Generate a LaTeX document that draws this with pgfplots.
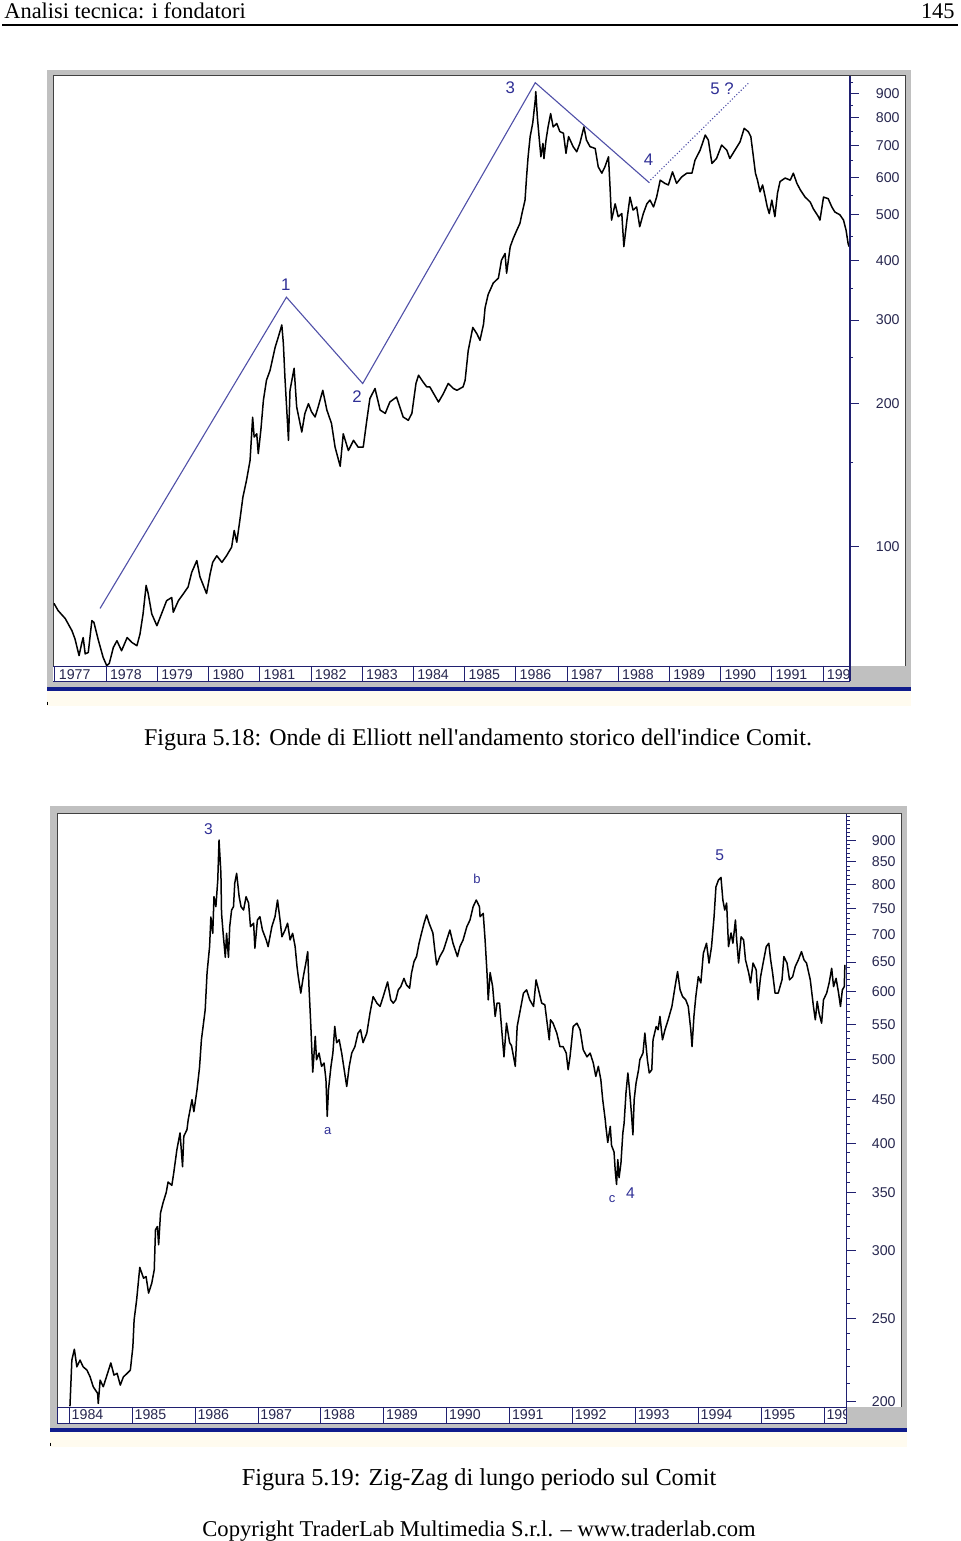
\documentclass[border=0pt]{standalone}
\usepackage{fontspec}
\setmainfont{Liberation Serif}
\setsansfont{Liberation Sans}
\usepackage{pgfplots}
\pgfplotsset{compat=1.18}
\definecolor{framegray}{RGB}{192,192,192}
\definecolor{framedark}{RGB}{64,64,64}
\definecolor{axisnavy}{RGB}{32,32,112}
\definecolor{barblue}{RGB}{16,28,140}
\definecolor{cream}{RGB}{255,251,239}
\definecolor{wave}{RGB}{80,80,168}
\definecolor{wavetxt}{RGB}{48,48,150}
\definecolor{ticktxt}{RGB}{40,40,80}
\pgfplotsset{
  chartstyle/.style={
    scale only axis, anchor=north west, clip=false,
    axis line style={draw=none},
    tick align=outside,
    major tick length=4.5pt, minor tick length=1.5pt,
    tick style={axisnavy, line width=0.5pt},
    ytick pos=right, yticklabel pos=right,
    xtick pos=left, xticklabel pos=left,
    xtick style={draw=none},
    yticklabel style={font=\sffamily\fontsize{7.1}{8}\selectfont, text=ticktxt, anchor=east, inner sep=0pt},
    xticklabel style={font=\sffamily\fontsize{7.1}{8}\selectfont, text=ticktxt, anchor=west, inner sep=0pt},
  },
  price/.style={black, line width=0.75pt, line join=round},
}
\begin{document}
\begin{tikzpicture}[x=0.5pt,y=-0.5pt]
\path[use as bounding box] (0,0) rectangle (960,1541);
\fill[white] (0,0) rectangle (960,1541);
% header
\node[anchor=base west, inner sep=0pt, font=\fontsize{11.2}{13}\selectfont] at (4,19) {Analisi tecnica: i fondatori};
\node[anchor=base east, inner sep=0pt, font=\fontsize{11.2}{13}\selectfont] at (955,19) {145};
\draw[line width=1pt] (2,25.5) -- (958,25.5);

% ---------- chart 1 frame
\fill[framegray] (47,70) rectangle (911,688);
\fill[white] (53,76) rectangle (905,666);
\draw[framedark, line width=0.5pt] (53,666) -- (53,76) -- (905,76) -- (905,666);
\fill[white] (53,666) rectangle (850,681);
\fill[barblue] (47,687) rectangle (911,691);
\fill[cream] (47,691) rectangle (911,706);
\draw[line width=0.5pt] (47.5,701.5) -- (47.5,704.5);

\begin{axis}[chartstyle,
  at={(26.5pt,-38.5pt)}, width=398.5pt, height=294.5pt,
  xmin=1976.961, xmax=1992.527, ymode=log, ymin=56, ymax=976,
  ytick={100,200,300,400,500,600,700,800,900},
  yticklabels={100,200,300,400,500,600,700,800,900},
  minor ytick={150,250,350,450,550,650,750,850,950},
  xtick={1977,1978,1979,1980,1981,1982,1983,1984,1985,1986,1987,1988,1989,1990,1991,1992},
  xticklabels={1977,1978,1979,1980,1981,1982,1983,1984,1985,1986,1987,1988,1989,1990,1991,1992},
  yticklabel style={xshift=20.5pt},
  xticklabel style={xshift=1.75pt, yshift=0.25pt},
]
\addplot[price] coordinates {
(1976.98,75.9) (1977.06,73.3) (1977.20,70.5) (1977.33,66.5) (1977.39,63.9) (1977.47,58.9) (1977.52,62.4) (1977.55,64.3) (1977.59,59.4) (1977.65,59.8) (1977.72,69.8) (1977.76,69.2) (1977.85,63.3) (1977.94,58.4) (1978.01,56.1) (1978.06,56.7) (1978.14,61.3) (1978.21,63.3) (1978.30,60.3) (1978.41,64.3) (1978.50,62.8) (1978.60,61.8) (1978.66,65.4) (1978.72,72.1) (1978.78,82.8) (1978.82,79.6) (1978.89,72.1) (1978.99,68.1) (1979.08,72.1) (1979.18,76.9) (1979.28,78.1) (1979.31,72.7) (1979.41,76.9) (1979.51,79.6) (1979.60,82.2) (1979.67,88.2) (1979.77,93.4) (1979.83,86.4) (1979.96,79.6) (1980.03,87.6) (1980.08,92.6) (1980.16,95.6) (1980.26,92.6) (1980.35,95.6) (1980.45,99.7) (1980.50,108.1) (1980.55,102.1) (1980.61,113.5) (1980.67,127.1) (1980.74,137.8) (1980.81,151.9) (1980.86,187.3) (1980.89,170.1) (1980.94,172.8) (1980.97,157) (1981.02,175.6) (1981.07,203.2) (1981.13,224) (1981.20,235) (1981.30,263) (1981.36,276) (1981.43,293) (1981.46,268) (1981.49,228) (1981.56,167.4) (1981.59,213.4) (1981.67,237.5) (1981.72,196.9) (1981.82,174.3) (1981.88,190.7) (1981.95,200) (1982.01,192.3) (1982.08,187.5) (1982.14,196.9) (1982.23,213.4) (1982.31,193.9) (1982.40,181.7) (1982.47,162) (1982.57,147.6) (1982.63,172.8) (1982.73,159.3) (1982.83,167.4) (1982.92,162) (1983.02,162) (1983.09,184.5) (1983.15,205) (1983.25,215.3) (1983.35,193.9) (1983.45,190.8) (1983.54,201.6) (1983.67,206.5) (1983.80,187.5) (1983.90,184.5) (1983.97,190.8) (1984.05,220.6) (1984.10,229.6) (1984.19,222.1) (1984.26,217) (1984.32,217) (1984.49,201.6) (1984.58,209.5) (1984.68,220.6) (1984.78,215.3) (1984.85,213.4) (1984.97,217) (1985.01,224) (1985.07,258.5) (1985.16,289.5) (1985.24,280.7) (1985.30,272) (1985.37,294.3) (1985.40,318.6) (1985.46,339.8) (1985.56,359.2) (1985.66,367.8) (1985.72,401.2) (1985.79,414.5) (1985.82,376.6) (1985.89,428) (1985.95,446) (1986.02,464.2) (1986.08,479.5) (1986.12,503) (1986.18,537) (1986.21,601) (1986.24,662.7) (1986.28,731) (1986.33,780) (1986.38,873) (1986.39,909) (1986.42,805) (1986.46,718.6) (1986.49,662.7) (1986.53,707) (1986.55,657) (1986.59,718.6) (1986.63,766) (1986.68,817) (1986.73,766) (1986.80,779) (1986.86,749) (1986.93,743) (1986.98,674) (1987.03,731) (1987.12,696) (1987.19,679) (1987.25,707) (1987.33,766) (1987.38,718.6) (1987.45,696) (1987.55,690) (1987.61,631) (1987.68,612) (1987.74,631) (1987.81,662.7) (1987.84,572.6) (1987.87,487.4) (1987.94,527.5) (1988.00,495.5) (1988.07,503) (1988.11,428.6) (1988.17,487.4) (1988.23,545) (1988.29,511.6) (1988.36,519.5) (1988.42,472) (1988.49,503) (1988.56,527.5) (1988.62,537) (1988.69,519.5) (1988.75,545) (1988.82,591.6) (1988.91,582.5) (1988.98,578) (1989.06,616) (1989.14,582.5) (1989.24,601) (1989.34,612) (1989.44,612) (1989.50,652) (1989.60,684.5) (1989.70,736.5) (1989.76,718.6) (1989.83,641.5) (1989.92,657.3) (1990.02,701.4) (1990.12,684.5) (1990.18,657.3) (1990.28,684.5) (1990.38,712.7) (1990.46,760.7) (1990.54,748.7) (1990.59,731) (1990.64,662.7) (1990.68,612) (1990.72,591.6) (1990.77,559) (1990.82,578) (1990.87,546) (1990.91,520) (1990.95,503) (1991.00,537) (1991.06,495.5) (1991.11,554.8) (1991.16,587.5) (1991.26,597.7) (1991.36,591.6) (1991.42,612) (1991.49,582.5) (1991.56,563.6) (1991.65,545) (1991.75,532) (1991.81,515) (1991.91,495.5) (1991.94,487.4) (1992.01,545) (1992.10,541) (1992.17,520) (1992.23,507) (1992.33,500) (1992.40,487.4) (1992.45,464.2) (1992.49,435) (1992.51,428.6)
};
\addplot[wave, line width=0.55pt] coordinates {(1977.88,74.05) (1981.52,335.3) (1983.01,220.5) (1986.38,949.4) (1988.61,584)};
\addplot[wave, line width=0.55pt, densely dotted] coordinates {(1988.63,592) (1990.54,946.6)};
\node[text=wavetxt, font=\sffamily\fontsize{8.4}{9}\selectfont, inner sep=0pt] at (axis cs:1981.51,357) {1};
\node[text=wavetxt, font=\sffamily\fontsize{8.4}{9}\selectfont, inner sep=0pt] at (axis cs:1982.90,207) {2};
\node[text=wavetxt, font=\sffamily\fontsize{8.4}{9}\selectfont, inner sep=0pt] at (axis cs:1985.89,925) {3};
\node[text=wavetxt, font=\sffamily\fontsize{8.4}{9}\selectfont, inner sep=0pt] at (axis cs:1988.59,652) {4};
\node[text=wavetxt, font=\sffamily\fontsize{8.4}{9}\selectfont, inner sep=0pt] at (axis cs:1990.03,921) {5 ?};
\pgfplotsinvokeforeach{1977,1978,1979,1980,1981,1982,1983,1984,1985,1986,1987,1988,1989,1990,1991,1992}{
  \draw[axisnavy, line width=0.5pt] (axis cs:#1,56) -- ++(0pt,-7.5pt);
}
\end{axis}
\fill[framegray] (850.5,666) rectangle (905,687);
\draw[axisnavy, line width=0.5pt] (53,666) -- (850,666);
\draw[axisnavy, line width=0.5pt] (53,681) -- (850,681);
\draw[axisnavy, line width=0.5pt] (54,666) -- (54,681);
\draw[axisnavy, line width=0.6pt] (850,76.5) -- (850,681);

\node[anchor=base, inner sep=0pt, font=\fontsize{12}{14}\selectfont] at (478,745) {Figura 5.18: Onde di Elliott nell\textquotesingle andamento storico dell\textquotesingle indice Comit.};

% ---------- chart 2 frame
\fill[framegray] (50,806) rectangle (907,1428);
\fill[white] (57,813) rectangle (901,1407);
\draw[framedark, line width=0.5pt] (57,1407) -- (57,813) -- (901,813) -- (901,1407);
\fill[white] (57,1407) rectangle (847,1423);
\fill[barblue] (50,1428) rectangle (907,1432);
\fill[cream] (50,1432) rectangle (907,1447);
\draw[line width=0.5pt] (50.5,1442.5) -- (50.5,1445.5);

\begin{axis}[chartstyle,
  at={(28.5pt,-406.75pt)}, width=394.85pt, height=296.75pt,
  xmin=1983.804, xmax=1996.359, ymode=log, ymin=197.2, ymax=967.8,
  ytick={200,250,300,350,400,450,500,550,600,650,700,750,800,850,900},
  yticklabels={200,250,300,350,400,450,500,550,600,650,700,750,800,850,900},
  minor ytick={200,210,...,960},
  xtick={1984,1985,1986,1987,1988,1989,1990,1991,1992,1993,1994,1995,1996},
  xticklabels={1984,1985,1986,1987,1988,1989,1990,1991,1992,1993,1994,1995,1996},
  yticklabel style={xshift=20.15pt},
  xticklabel style={xshift=1pt, yshift=0.5pt},
]
\addplot[price] coordinates {
(1984.01,197.6) (1984.04,223.6) (1984.08,230.2) (1984.12,219.6) (1984.17,223.6) (1984.22,219.6) (1984.28,217.7) (1984.33,213.8) (1984.38,208.2) (1984.45,204.5) (1984.46,199.1) (1984.49,211.9) (1984.54,208.2) (1984.59,213.8) (1984.66,221.9) (1984.71,214.8) (1984.76,215.8) (1984.81,209.1) (1984.86,213.8) (1984.92,215.8) (1984.97,217.7) (1985.01,231.6) (1985.03,249) (1985.07,262.7) (1985.12,286.7) (1985.18,278.5) (1985.22,279.7) (1985.26,267.6) (1985.31,274.7) (1985.35,284.8) (1985.37,317.1) (1985.40,319.9) (1985.42,304.6) (1985.45,331.9) (1985.49,340.9) (1985.54,350.4) (1985.57,360.4) (1985.63,357.2) (1985.66,369.4) (1985.71,393.1) (1985.76,411.1) (1985.80,375.5) (1985.82,407.4) (1985.87,414.7) (1985.89,425.9) (1985.95,449.4) (1985.98,435.2) (1986.03,461.5) (1986.07,490.1) (1986.10,527.7) (1986.16,571.8) (1986.19,631.9) (1986.23,677.4) (1986.25,733.4) (1986.28,702) (1986.30,774.4) (1986.33,754) (1986.36,809.7) (1986.38,901.4) (1986.41,824.4) (1986.42,740.9) (1986.45,695.4) (1986.48,658.1) (1986.50,702) (1986.53,658.1) (1986.55,714.7) (1986.58,747.2) (1986.61,754) (1986.63,803) (1986.66,824.4) (1986.70,774.4) (1986.73,754) (1986.77,747.2) (1986.81,774.4) (1986.85,761.3) (1986.88,714.7) (1986.93,721.3) (1986.95,674.3) (1986.99,727.5) (1987.03,734) (1987.07,708.3) (1987.13,689.6) (1987.16,677.4) (1987.22,714.7) (1987.27,734) (1987.31,767.5) (1987.35,727.5) (1987.38,695.4) (1987.43,708.3) (1987.47,721.3) (1987.51,689.6) (1987.55,702) (1987.59,677.4) (1987.62,642) (1987.64,625) (1987.68,598) (1987.72,625) (1987.76,648) (1987.79,668.4) (1987.81,609) (1987.84,546.8) (1987.87,483.8) (1987.91,532.4) (1987.93,500.2) (1987.97,509.2) (1988.01,491.4) (1988.05,495.8) (1988.08,474.1) (1988.10,429.8) (1988.12,461.5) (1988.16,491.4) (1988.19,509.2) (1988.22,546.8) (1988.25,523.6) (1988.29,527.7) (1988.33,509.2) (1988.37,486.9) (1988.41,465.6) (1988.45,491.4) (1988.49,509.2) (1988.54,518.1) (1988.59,537.2) (1988.63,542) (1988.67,523.6) (1988.73,537.2) (1988.78,566.8) (1988.83,592.5) (1988.89,582.1) (1988.94,577) (1988.99,592.5) (1989.06,616.2) (1989.11,587.3) (1989.15,582.1) (1989.19,587.3) (1989.23,603.2) (1989.27,608.5) (1989.32,622.1) (1989.36,611.3) (1989.41,605.9) (1989.44,630.9) (1989.48,650.7) (1989.52,659.5) (1989.56,683.5) (1989.60,702.6) (1989.64,721.3) (1989.68,737.4) (1989.72,721.3) (1989.78,702.6) (1989.81,671.4) (1989.84,645) (1989.89,659.5) (1989.95,671.4) (1990.00,689.6) (1990.05,708.3) (1990.10,683.5) (1990.17,659.5) (1990.21,677.4) (1990.26,689.6) (1990.32,714.7) (1990.37,727.5) (1990.42,754) (1990.47,767.5) (1990.52,754) (1990.53,734) (1990.58,740.6) (1990.61,689.6) (1990.64,631.9) (1990.66,587.3) (1990.69,631.9) (1990.73,608.5) (1990.77,561.7) (1990.80,582.1) (1990.84,582.1) (1990.87,546.8) (1990.91,504.1) (1990.95,551.7) (1991.00,523.6) (1991.03,519.4) (1991.09,491.4) (1991.12,546.8) (1991.17,571.8) (1991.22,598) (1991.27,603.2) (1991.32,587.3) (1991.38,577) (1991.42,619.6) (1991.46,603.2) (1991.51,582.1) (1991.56,579.6) (1991.59,556.7) (1991.63,527.7) (1991.65,556.7) (1991.69,551.7) (1991.75,537.2) (1991.80,518.1) (1991.85,518.1) (1991.90,509.2) (1991.93,486.9) (1991.96,504.1) (1992.01,546.8) (1992.07,551.7) (1992.12,542) (1992.17,513.7) (1992.23,504.1) (1992.28,509.2) (1992.33,495.8) (1992.37,478.3) (1992.41,491.4) (1992.45,474.1) (1992.48,449.4) (1992.52,425.9) (1992.53,418.4) (1992.56,400.7) (1992.60,418.4) (1992.62,397.6) (1992.66,390.6) (1992.68,370.7) (1992.70,358.1) (1992.72,382.7) (1992.74,364.6) (1992.77,379.4) (1992.80,411.1) (1992.82,421.8) (1992.85,457.8) (1992.88,482.8) (1992.91,457.8) (1992.94,429.8) (1992.96,409) (1992.98,449.4) (1993.01,469.9) (1993.05,486.9) (1993.07,500.2) (1993.12,509.2) (1993.15,537.2) (1993.19,500.2) (1993.22,482.8) (1993.26,486.9) (1993.28,527.7) (1993.33,546.8) (1993.36,542) (1993.39,561.7) (1993.43,527.7) (1993.47,542) (1993.52,556.7) (1993.58,577) (1993.63,608.5) (1993.67,633.6) (1993.71,603.2) (1993.75,592.5) (1993.80,587.3) (1993.84,577) (1993.88,542) (1993.90,518.1) (1993.93,561.7) (1993.96,592.5) (1994.00,625) (1994.04,614.6) (1994.08,665.4) (1994.13,683.5) (1994.17,648.2) (1994.21,677.4) (1994.25,733.4) (1994.28,795) (1994.32,809.7) (1994.36,815.4) (1994.39,767.5) (1994.42,747.2) (1994.45,761.3) (1994.48,677.4) (1994.52,702.6) (1994.55,683.5) (1994.59,727.5) (1994.61,689.6) (1994.64,648.2) (1994.68,695.4) (1994.72,689.6) (1994.75,653.7) (1994.80,631.9) (1994.83,614.6) (1994.87,648.2) (1994.92,636.4) (1994.95,587.3) (1994.99,625) (1995.03,648.2) (1995.08,677.4) (1995.12,683.5) (1995.15,653.7) (1995.18,631.9) (1995.22,598) (1995.27,598) (1995.33,619.6) (1995.36,659.5) (1995.41,648.2) (1995.45,619.6) (1995.50,625) (1995.54,642) (1995.59,653.7) (1995.64,668.4) (1995.68,653.7) (1995.72,648.2) (1995.78,619.6) (1995.83,577) (1995.86,556.7) (1995.89,584.8) (1995.92,566.8) (1995.96,551.7) (1995.99,587.3) (1996.04,598) (1996.08,614.6) (1996.12,639.2) (1996.15,608.5) (1996.19,622.1) (1996.23,598) (1996.26,577) (1996.29,603.2) (1996.32,608.5) (1996.33,645)
};
\node[text=wavetxt, font=\sffamily\fontsize{7.8}{9}\selectfont, inner sep=0pt] at (axis cs:1986.21,928.4) {3};
\node[text=wavetxt, font=\sffamily\fontsize{6.5}{8}\selectfont, inner sep=0pt] at (axis cs:1990.48,811.8) {b};
\node[text=wavetxt, font=\sffamily\fontsize{7.8}{9}\selectfont, inner sep=0pt] at (axis cs:1994.34,865.9) {5};
\node[text=wavetxt, font=\sffamily\fontsize{6.5}{8}\selectfont, inner sep=0pt] at (axis cs:1988.11,413.3) {a};
\node[text=wavetxt, font=\sffamily\fontsize{6.5}{8}\selectfont, inner sep=0pt] at (axis cs:1992.63,344.4) {c};
\node[text=wavetxt, font=\sffamily\fontsize{7.8}{9}\selectfont, inner sep=0pt] at (axis cs:1992.92,350) {4};
\pgfplotsinvokeforeach{1984,1985,1986,1987,1988,1989,1990,1991,1992,1993,1994,1995,1996}{
  \draw[axisnavy, line width=0.5pt] (axis cs:#1,197.2) -- ++(0pt,-8pt);
}
\end{axis}
\fill[framegray] (847.2,1407) rectangle (901,1428);
\draw[axisnavy, line width=0.5pt] (57,1407) -- (846.7,1407);
\draw[axisnavy, line width=0.5pt] (57,1423) -- (846.7,1423);
\draw[axisnavy, line width=0.5pt] (57.5,1407) -- (57.5,1423);
\draw[axisnavy, line width=0.6pt] (846.7,813.5) -- (846.7,1423);

\node[anchor=base, inner sep=0pt, font=\fontsize{12.15}{14}\selectfont] at (479,1485) {Figura 5.19: Zig-Zag di lungo periodo sul Comit};
\node[anchor=base, inner sep=0pt, font=\fontsize{11.3}{14}\selectfont] at (479,1536) {Copyright TraderLab Multimedia S.r.l. -- www.traderlab.com};
\end{tikzpicture}
\end{document}
